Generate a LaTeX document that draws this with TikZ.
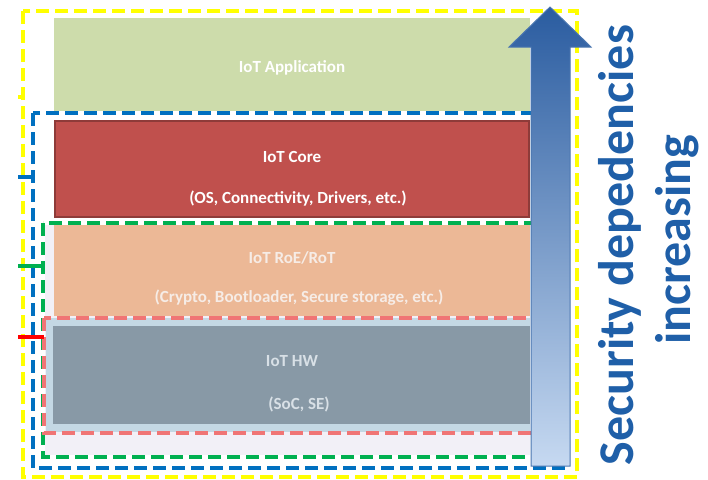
\documentclass[tikz,border=0pt]{standalone}
\usepackage{fontspec}
\setmainfont{Carlito}
\definecolor{appgreen}{HTML}{CDDCAB}
\definecolor{corered}{HTML}{C0504D}
\definecolor{coreedge}{HTML}{8E3B39}
\definecolor{roeorange}{HTML}{ECB896}
\definecolor{roetext}{HTML}{F6ECE6}
\definecolor{hwgrey}{HTML}{8899A6}
\definecolor{hwtext}{HTML}{D8E0E6}
\definecolor{hwback}{HTML}{C4D8E4}
\definecolor{lavender}{HTML}{F2F0F7}
\definecolor{dashyellow}{HTML}{FFFF00}
\definecolor{dashblue}{HTML}{0070C0}
\definecolor{dashgreen}{HTML}{00B050}
\definecolor{dashred}{HTML}{F07575}
\definecolor{tickred}{HTML}{FF0000}
\definecolor{arrowtop}{HTML}{2A5CA0}
\definecolor{arrowbottom}{HTML}{C6D9F1}
\definecolor{arrowedge}{HTML}{4A76B0}
\definecolor{secblue}{HTML}{1F5FA8}
\begin{document}
\begin{tikzpicture}[x = 1pt, y = -1pt,
    boundary/.style = {line width = 3.5pt, dash pattern = on 13pt off 6pt},
    layertext/.style = {font = \fontsize{17}{20}\selectfont\bfseries},
    sectext/.style = {font = \fontsize{50}{60}\selectfont\bfseries, text = secblue, rotate = 90, anchor = base}]
                   \useasboundingbox (0,0) rectangle (708,479);

                   \fill[lavender] (45,225) rectangle (530,455);
                   \fill[hwback] (46,318) rectangle (530,432);

                   \fill[appgreen] (54,18) rectangle (530,111);
                   \draw[coreedge, fill = corered, line width = 1.5pt] (55,121) rectangle (529,217);
                   \fill[roeorange] (54,225) rectangle (530,316);
                   \fill[hwgrey] (53,326) rectangle (530,424);

                   \draw[boundary, dashyellow] (23,11) rectangle (577,477);
                   \draw[boundary, dashblue] (33,113) rectangle (565,468);
                   \draw[boundary, dashgreen] (43,223) rectangle (550,457);
                   \draw[boundary, dashred] (44,318) rectangle (550,433);

                   \draw[line width = 3.5pt, dashyellow] (18,97) -- (23,97);
                   \draw[line width = 3.5pt, dashblue] (18,177) -- (33,177);
                   \draw[line width = 3.5pt, dashgreen] (18,266) -- (43,266);
                   \draw[line width = 3.5pt, tickred] (18,337) -- (44,337);

                   \draw[arrowedge, line width = 1pt, top color = arrowtop, bottom color = arrowbottom]
                        (531,466) -- (531,47) -- (509,47) -- (550,7) -- (591,47) -- (570,47) -- (570,466) -- cycle;

                   \node[layertext, text = white] (apptitle) at (292,68) {IoT Application};
                   \node[layertext, text = white] (coretitle) at (292,157) {IoT Core};
                   \node[layertext, text = white] (corelist) at (298,199) {(OS, Connectivity, Drivers, etc.)};
                   \node[layertext, text = roetext] (roetitle) at (292,258) {IoT RoE/RoT};
                   \node[layertext, text = roetext] (roelist) at (299,298) {(Crypto, Bootloader, Secure storage, etc.)};
                   \node[layertext, text = hwtext] (hwtitle) at (292,361) {IoT HW};
                   \node[layertext, text = hwtext] (hwlist) at (299,404) {(SoC, SE)};

                   \node[sectext] (secline) at (633,245) {Security depedencies};
                   \node[sectext] (incline) at (690,240) {increasing};

        \end{tikzpicture}
\end{document}
